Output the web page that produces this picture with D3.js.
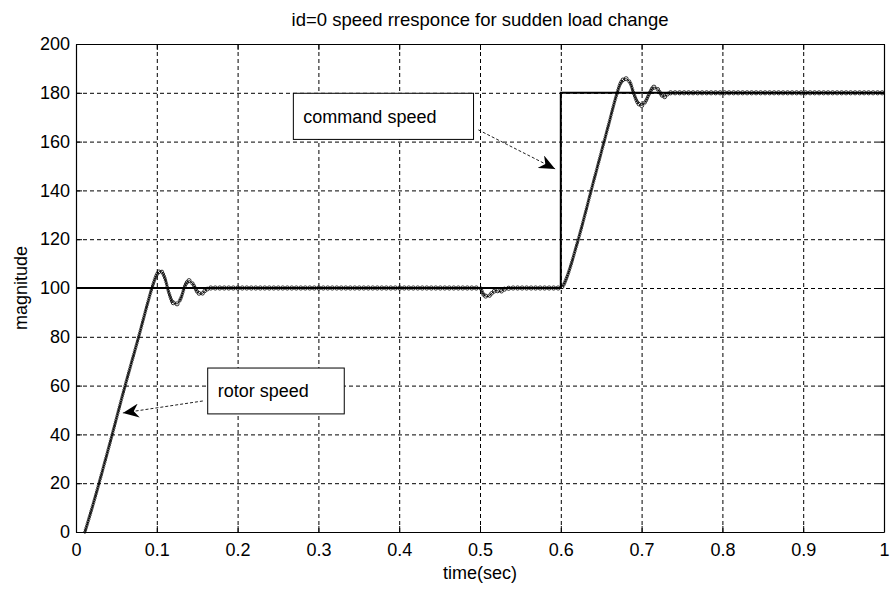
<!DOCTYPE html>
<html>
<head>
<meta charset="utf-8">
<script src="https://cdn.jsdelivr.net/npm/d3@7"></script>
<style>
  body { margin: 0; background: #fff; }
  svg { display: block; font-family: "Liberation Sans", Arial, sans-serif; }
</style>
</head>
<body>
<svg id="chart" width="890" height="595"></svg>
<script>
// command speed (step at 0.6 s)
var cmdTime  = [0, 0.6, 0.6, 1];
var cmdSpeed = [100, 100, 180, 180];

// measured rotor speed
var rotorTime  = [0.011, 0.020, 0.040, 0.060, 0.080, 0.088, 0.094, 0.100, 0.105, 0.110, 0.115,
                  0.120, 0.125, 0.130, 0.135, 0.140, 0.145, 0.150, 0.155, 0.160, 0.166,
                  0.500, 0.505, 0.510, 0.515, 0.520, 0.525, 0.530, 0.540,
                  0.600, 0.603, 0.607, 0.620, 0.640, 0.660, 0.668, 0.674, 0.680, 0.686,
                  0.690, 0.695, 0.700, 0.705, 0.710, 0.715, 0.720, 0.725, 0.728, 0.732, 0.736, 1.000];
var rotorSpeed = [0, 10, 34, 59, 83, 93, 100, 105.5, 107, 104, 98,
                  94, 93.5, 96, 101, 103, 101.5, 98.5, 97.5, 99, 100,
                  100, 97, 96.5, 98, 99, 98.5, 99.5, 100,
                  100, 101, 104, 118, 143, 168, 178, 184, 185.8, 184,
                  180, 176, 174.8, 176.5, 180, 182.3, 181.5, 179, 178.3, 179.5, 180, 180];

var xTicks = [0, 0.1, 0.2, 0.3, 0.4, 0.5, 0.6, 0.7, 0.8, 0.9, 1];
var yTicks = [0, 20, 40, 60, 80, 100, 120, 140, 160, 180, 200];

var margin = {top: 44, right: 6, bottom: 63, left: 76},
    width = 890 - margin.left - margin.right,
    height = 595 - margin.top - margin.bottom;

var svg = d3.select("#chart");
svg.append("rect").attr("width", 890).attr("height", 595).attr("fill", "#fff");

var g = svg.append("g")
    .attr("transform", "translate(" + margin.left + "," + margin.top + ")");

var x = d3.scaleLinear().domain([0, 1]).range([0, width]);
var y = d3.scaleLinear().domain([0, 200]).range([height, 0]);

// dotted grid
g.append("g")
    .attr("class", "grid")
    .attr("transform", "translate(0," + height + ")")
    .call(d3.axisBottom(x).tickValues(xTicks.slice(1, -1)).tickSize(-height).tickFormat(""))
    .call(function(s) { s.select(".domain").remove(); });
g.append("g")
    .attr("class", "grid")
    .call(d3.axisLeft(y).tickValues(yTicks.slice(1, -1)).tickSize(-width).tickFormat(""))
    .call(function(s) { s.select(".domain").remove(); });
g.selectAll(".grid line")
    .attr("stroke", "#000")
    .attr("stroke-width", 1)
    .attr("stroke-dasharray", "4,3");

// command speed
var line = d3.line()
    .x(function(d) { return x(d[0]); })
    .y(function(d) { return y(d[1]); });

g.append("path")
    .datum(d3.zip(cmdTime, cmdSpeed))
    .attr("fill", "none")
    .attr("stroke", "#000")
    .attr("stroke-width", 2)
    .attr("d", line);

// rotor speed: smooth trace with its 'o' markers
var rotorLine = d3.line()
    .x(function(d) { return x(d[0]); })
    .y(function(d) { return y(d[1]); })
    .curve(d3.curveMonotoneX);

var rotorPath = g.append("path")
    .datum(d3.zip(rotorTime, rotorSpeed))
    .attr("fill", "none")
    .attr("stroke", "#000")
    .attr("stroke-width", 0.9)
    .attr("d", rotorLine);

// markers follow the solver steps: open rings where flat, tight specks on the ramps
var node = rotorPath.node(),
    total = node.getTotalLength(),
    marks = [],
    s = 0;
while (s <= total) {
  var p = node.getPointAtLength(s),
      q = node.getPointAtLength(Math.min(total, s + 0.5)),
      flat = Math.abs(q.x - p.x) / (Math.hypot(q.x - p.x, q.y - p.y) || 1);
  marks.push({x: p.x, y: p.y, r: 0.9 + 1.2 * flat});
  s += Math.max(2.2, 4.5 * flat);
}

g.append("g").selectAll("circle")
    .data(marks)
    .enter().append("circle")
    .attr("cx", function(p) { return p.x; })
    .attr("cy", function(p) { return p.y; })
    .attr("r", function(p) { return p.r; })
    .attr("fill", "none")
    .attr("stroke", "#000")
    .attr("stroke-width", 0.8);

// axes box with inward ticks on every side
var tickFont = function(s) {
  s.selectAll("text").attr("fill", "#000").style("font-size", "18px");
  s.selectAll("line").attr("stroke", "#000");
  s.select(".domain").attr("stroke", "#000");
};
g.append("g")
    .attr("transform", "translate(0," + height + ")")
    .call(d3.axisBottom(x).tickValues(xTicks).tickSize(-6).tickSizeOuter(0).tickPadding(11)
          .tickFormat(d3.format("")))
    .call(tickFont);
g.append("g")
    .call(d3.axisLeft(y).tickValues(yTicks).tickSize(-6).tickSizeOuter(0).tickPadding(6))
    .call(tickFont);
g.append("g")
    .call(d3.axisTop(x).tickValues(xTicks).tickSize(-6).tickSizeOuter(0).tickFormat(""))
    .call(tickFont);
g.append("g")
    .attr("transform", "translate(" + width + ",0)")
    .call(d3.axisRight(y).tickValues(yTicks).tickSize(-6).tickSizeOuter(0).tickFormat(""))
    .call(tickFont);
g.selectAll(".domain").attr("stroke-width", 1.2);

// arrow head used by the text arrows
svg.append("defs").append("marker")
    .attr("id", "head")
    .attr("viewBox", "-16 -7 16 14")
    .attr("refX", 0).attr("refY", 0)
    .attr("markerWidth", 16).attr("markerHeight", 14)
    .attr("markerUnits", "userSpaceOnUse")
    .attr("orient", "auto")
  .append("path")
    .attr("d", "M0,0 L-16,-7 L-11,0 L-16,7 Z")
    .attr("fill", "#000");

// text arrows
var notes = [
  {text: "command speed", box: [0.269, 0.492, 179.8, 160.9], from: [0.498, 164.8], to: [0.593, 148.8]},
  {text: "rotor speed",   box: [0.163, 0.332, 67.2, 48.4],   from: [0.157, 53.7],  to: [0.058, 48.8]}
];

notes.forEach(function(n) {
  g.append("line")
      .attr("x1", x(n.from[0])).attr("y1", y(n.from[1]))
      .attr("x2", x(n.to[0])).attr("y2", y(n.to[1]))
      .attr("stroke", "#222")
      .attr("stroke-width", 1)
      .attr("stroke-dasharray", "3,2")
      .attr("marker-end", "url(#head)");
  var bx = x(n.box[0]), by = y(n.box[2]),
      bw = x(n.box[1]) - bx, bh = y(n.box[3]) - by;
  g.append("rect")
      .attr("x", bx).attr("y", by)
      .attr("width", bw).attr("height", bh)
      .attr("fill", "#fff")
      .attr("stroke", "#000")
      .attr("stroke-width", 1);
  g.append("text")
      .attr("x", bx + 10)
      .attr("y", by + bh / 2)
      .attr("dy", "0.35em")
      .style("font-size", "18px")
      .attr("fill", "#000")
      .text(n.text);
});

// title and axis labels
svg.append("text")
    .attr("x", margin.left + width / 2)
    .attr("y", 26)
    .attr("text-anchor", "middle")
    .style("font-size", "18.5px")
    .text("id=0 speed rresponce for sudden load change");

svg.append("text")
    .attr("x", margin.left + width / 2)
    .attr("y", 579)
    .attr("text-anchor", "middle")
    .style("font-size", "18px")
    .text("time(sec)");

svg.append("text")
    .attr("transform", "rotate(-90)")
    .attr("x", -(margin.top + height / 2))
    .attr("y", 27)
    .attr("text-anchor", "middle")
    .style("font-size", "18px")
    .text("magnitude");
</script>
</body>
</html>
